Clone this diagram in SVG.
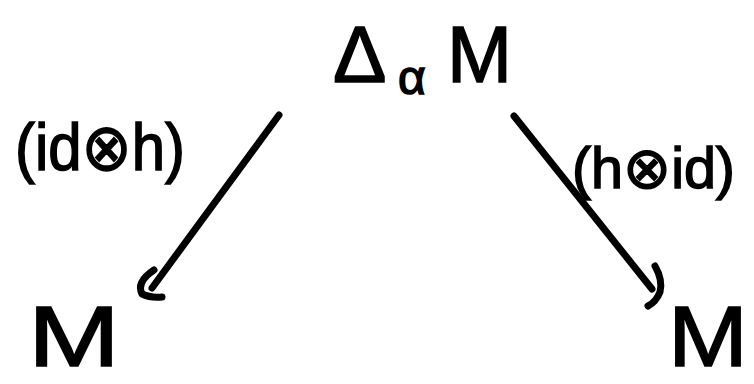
<svg xmlns="http://www.w3.org/2000/svg" width="754" height="384" viewBox="0 0 754 384">
<style>
text{font-family:"Liberation Sans","DejaVu Sans",sans-serif;fill:#000;stroke:#000;stroke-width:1.5}
.ln{fill:none;stroke:#000;stroke-width:7;stroke-linecap:round;stroke-linejoin:round}
</style>
<rect width="754" height="384" fill="#fff"/>
<g id="node-top">
<text x="333" y="82" font-size="80">Δ</text>
<text x="398" y="94" font-size="48">α</text>
<text x="447" y="82" font-size="80" textLength="65" lengthAdjust="spacingAndGlyphs">M</text>
</g>
<g id="node-left">
<text x="28" y="366" font-size="86" textLength="92" lengthAdjust="spacingAndGlyphs">M</text>
</g>
<g id="node-right">
<text x="668" y="366" font-size="86" textLength="80" lengthAdjust="spacingAndGlyphs">M</text>
</g>
<g id="connectors">
<path class="ln" d="M279 115 L152 288"/>
<path class="ln" d="M154 270 Q136 282 142 294 Q150 298 162 297"/>
<g id="label-left"><text x="15" y="170" font-size="66" textLength="170" lengthAdjust="spacingAndGlyphs">(id⊗h)</text></g>
<path class="ln" d="M514 116 L652 289"/>
<path class="ln" d="M655 266 Q663 280 660 292 Q656 302 648 306"/>
<g id="label-right"><text x="572" y="188" font-size="58" textLength="163" lengthAdjust="spacingAndGlyphs">(h⊗id)</text></g>
</g>
</svg>
